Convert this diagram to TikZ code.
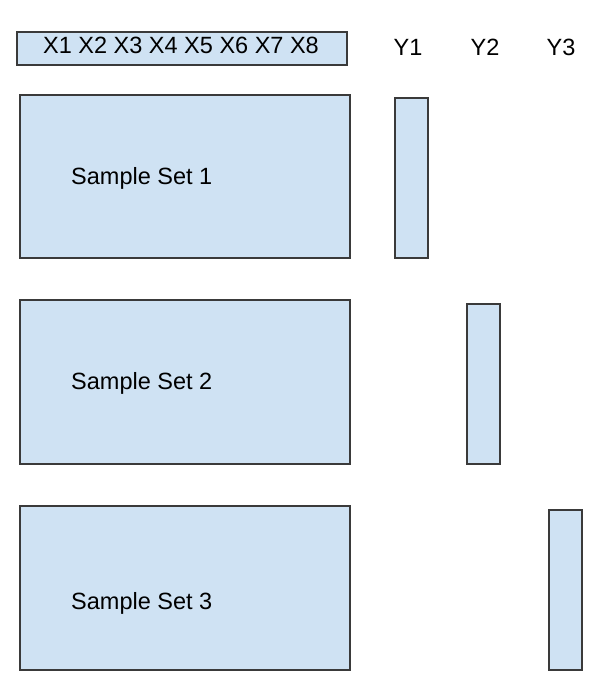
\documentclass[tikz,border=0pt]{standalone}
\usepackage{fontspec}
\setmainfont{Liberation Sans}
\definecolor{boxfill}{HTML}{CFE2F3}
\definecolor{boxline}{HTML}{3A3A3A}
\begin{document}
\begin{tikzpicture}[x=1pt,y=-1pt,
  box/.style={draw=boxline, fill=boxfill, line width=1.3pt, anchor=north west, inner sep=0pt, outer sep=0pt},
  lbl/.style={font=\fontsize{23.5}{27}\selectfont, inner sep=0pt, text=black}]
\useasboundingbox (0,0) rectangle (610,698);
% header
\node[box, minimum width=330pt, minimum height=33pt] (xb) at (17,32) {};
\node[lbl, anchor=base] (xt) at (181,54) {X1 X2 X3 X4 X5 X6 X7 X8};
\node[lbl, anchor=base] (y1) at (408,56) {Y1};
\node[lbl, anchor=base] (y2) at (485,56) {Y2};
\node[lbl, anchor=base] (y3) at (561,56) {Y3};
% sample sets
\node[box, minimum width=330pt, minimum height=163pt] (s1) at (20,95) {};
\node[lbl, anchor=base west] (t1) at (71,184) {Sample Set 1};
\node[box, minimum width=33pt, minimum height=160pt] (b1) at (395,98) {};
\node[box, minimum width=330pt, minimum height=164pt] (s2) at (20,300) {};
\node[lbl, anchor=base west] (t2) at (71,389) {Sample Set 2};
\node[box, minimum width=33pt, minimum height=160pt] (b2) at (467,304) {};
\node[box, minimum width=330pt, minimum height=164pt] (s3) at (20,506) {};
\node[lbl, anchor=base west] (t3) at (71,609) {Sample Set 3};
\node[box, minimum width=33pt, minimum height=160pt] (b3) at (549,510) {};
\end{tikzpicture}
\end{document}
